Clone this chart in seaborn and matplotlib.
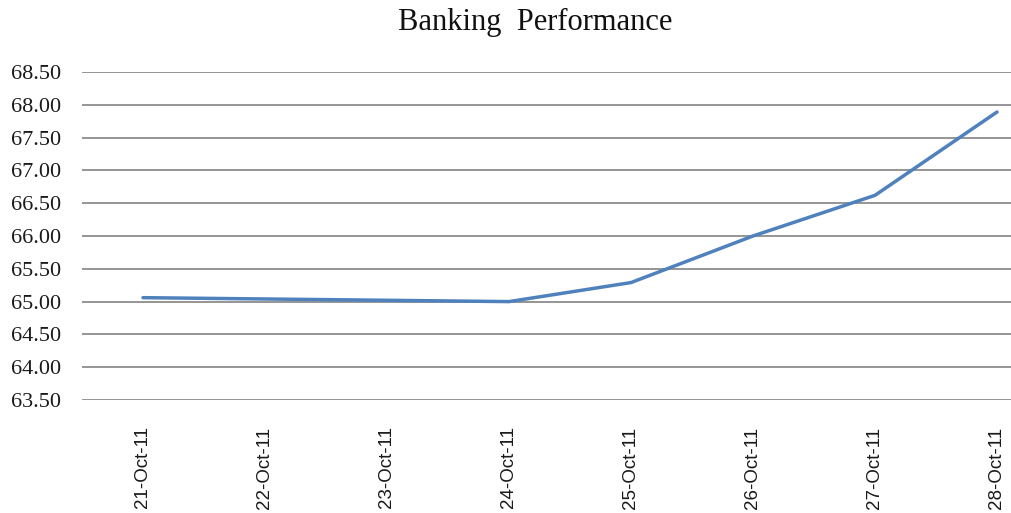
import numpy as np
import pandas as pd
import matplotlib
matplotlib.use("Agg")
import matplotlib.pyplot as plt
import seaborn as sns

dates = ["21-Oct-11", "22-Oct-11", "23-Oct-11", "24-Oct-11",
         "25-Oct-11", "26-Oct-11", "27-Oct-11", "28-Oct-11"]
values = [65.06, 65.04, 65.02, 65.00, 65.29, 66.00, 66.62, 67.89]
yticks = [63.5, 64.0, 64.5, 65.0, 65.5, 66.0, 66.5, 67.0, 67.5, 68.0, 68.5]

sns.set_theme(style="white")
plt.rcParams['font.family'] = ['Liberation Serif', 'DejaVu Serif']

df = pd.DataFrame({"pos": np.arange(len(dates)), "value": values})

fig = plt.figure(figsize=(10.11, 5.13), dpi=100)
ax = fig.add_axes([82/1011, 1 - 400/513, (1058-82)/1011, (400-72)/513])

sns.lineplot(data=df, x="pos", y="value", ax=ax, color="#4F81BD",
             linewidth=2.5, sort=False)

ax.set_xlim(-0.5, len(dates) - 0.5)
ax.set_ylim(63.5, 68.5)
ax.set_yticks(yticks)
ax.set_yticklabels([f"{v:.2f}" for v in yticks], fontsize=16,
                   family=['Liberation Serif'], color="#1a1a1a")
ax.set_xticks(np.arange(len(dates)))
ax.set_xticklabels(dates, rotation=90, fontsize=13.5, va="top", ha="center",
                   family=['Liberation Sans'], color="#1a1a1a")
ax.tick_params(axis="y", length=0, pad=15)
ax.tick_params(axis="x", length=0, pad=19)
ax.yaxis.grid(True, color="#8C8C8C", linewidth=1.3)
ax.xaxis.grid(False)
for s in ax.spines.values():
    s.set_visible(False)
ax.set_xlabel("")
ax.set_ylabel("")

fig.text(535/1011, 1 - 22/513, "Banking  Performance", ha="center", va="center",
         fontsize=22, family=['Liberation Serif'], color="#111111")

fig.savefig("out.png", dpi=100)
